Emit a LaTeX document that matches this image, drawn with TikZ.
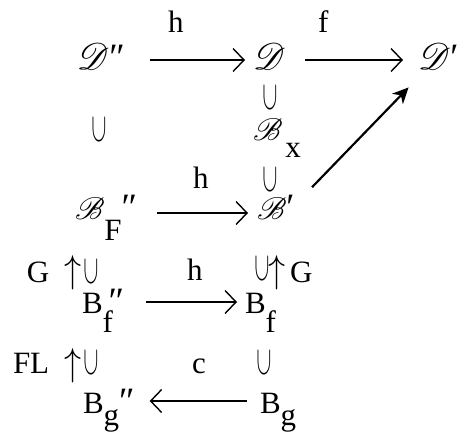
\RequirePackage{fix-cm}
\documentclass[tikz,border=0pt]{standalone}
\usepackage{fontspec}
\setmainfont{Liberation Serif}
\usepackage{mathrsfs}
\usepackage{graphicx}
\usetikzlibrary{arrows.meta}
\newcommand\incl{\rotatebox[origin=c]{90}{\scalebox{1.33}[0.7]{$\subset$}}}
\newcommand\upar{\scalebox{1.1}[1.25]{$\uparrow$}}
\newcommand\scrD{\scalebox{1.5}{$\mathscr{D}$}}
\newcommand\scrB{\scalebox{1.25}{$\mathscr{B}$}}
\newcommand\lw[2]{\raisebox{-#1pt}{#2}}
\newcommand\dpr{\scalebox{1.2}{″}}
\newcommand\spr{\scalebox{1.2}{′}}
\begin{document}
\begin{tikzpicture}[x=1pt,y=-1pt,
  every node/.style={inner sep=0pt,outer sep=0pt,font=\fontsize{31}{36}\selectfont},
  obj/.style={anchor=base west},
  lbl/.style={anchor=base west},
  inc/.style={anchor=center},
  harr/.style={line width=2.4pt,-{Straight Barb[length=11pt,width=23pt,line width=1.4pt]}},
  darr/.style={line width=2.2pt,-{Stealth[length=16pt,width=15pt,inset=5pt]}},
]
\useasboundingbox (0,0) rectangle (459,432);
% row 1
\node[obj] (D2) at (77,69) {\scrD\dpr};
\node[obj] (D)  at (253,69) {\scrD};
\node[obj] (D1) at (418,69) {\scrD\spr};
\node[lbl] (h1) at (168,32) {h};
\node[lbl] (f1) at (318,32) {f};
\draw[harr,shorten <=25pt,shorten >=8pt] ([yshift=9pt]D2.base east) -- ([yshift=9pt]D.base west);
\draw[harr,shorten <=20pt,shorten >=15pt] ([yshift=9pt]D.base east) -- ([yshift=9pt]D1.base west);
% inclusions
\node[inc] (U1) at (270,97) {\incl};
\node[inc] (U2) at (99,129) {\incl};
\node[obj] (Bx) at (253,140) {\scrB\kern3pt\lw{17}{x}};
\node[lbl] (h2) at (193,188) {h};
\node[inc] (U3) at (270,179) {\incl};
% row B_F''
\node[obj] (BF2) at (75,219) {\scrB\lw{21}{F}\dpr};
\node[obj] (B1)  at (257,219) {\scrB\spr};
\draw[harr,shorten <=20pt,shorten >=9pt] ([yshift=6pt]BF2.base east) -- ([yshift=6pt]B1.base west);
\draw[darr,shorten <=2pt,shorten >=2pt] ([xshift=16pt,yshift=6pt]B1.north east) -- ([xshift=-8pt,yshift=-17pt]D1.south west);
% G row
\node[lbl] (G1) at (27,282) {G};
\node[lbl] (up1) at (64,282) {\upar};
\node[inc] (U4) at (91,271) {\incl};
\node[lbl] (h3) at (187,280) {h};
\node[inc] (U5) at (262,268) {\incl};
\node[lbl] (up2) at (268,282) {\upar};
\node[lbl] (G2) at (290,282) {G};
% row B_f''
\node[obj] (Bf2) at (82,313) {B\rlap{\lw{19}{f}}\kern6pt\dpr};
\node[obj] (Bf)  at (245,313) {B\lw{19}{f}};
\draw[harr,shorten <=22pt,shorten >=8pt] ([yshift=11pt]Bf2.base east) -- ([yshift=11pt]Bf.base west);
% FL row
\node[lbl] (FL) at (13,373) {FL};
\node[lbl] (up3) at (64,375) {\upar};
\node[inc] (U6) at (91,362) {\incl};
\node[lbl] (c1) at (192,373) {c};
\node[inc] (U7) at (264,362) {\incl};
% row B_g''
\node[obj] (Bg2) at (83,413) {B\lw{12}{g}\dpr};
\node[obj] (Bg)  at (260,413) {B\lw{12}{g}};
\draw[harr,shorten <=13pt,shorten >=15pt] ([yshift=12pt]Bg.base west) -- ([yshift=12pt]Bg2.base east);
\end{tikzpicture}
\end{document}
